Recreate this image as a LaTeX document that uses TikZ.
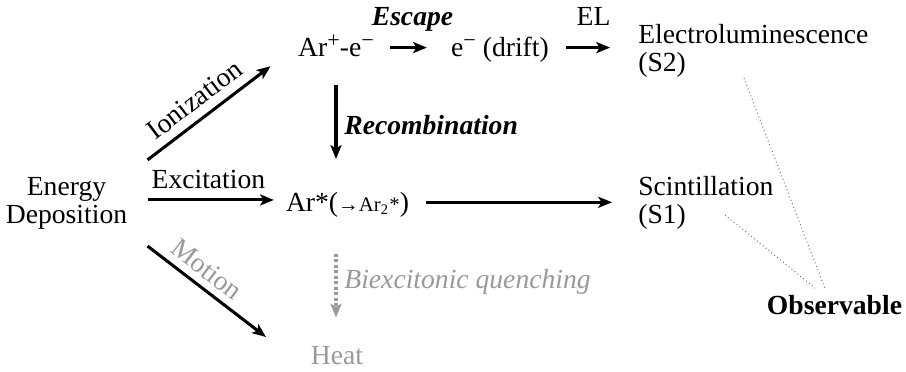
\documentclass[tikz,border=0pt]{standalone}
\usepackage{fontspec}
\setmainfont{Liberation Serif}
\usetikzlibrary{arrows.meta}

\definecolor{heatgray}{gray}{0.6}
\definecolor{linkgray}{gray}{0.45}

\newcommand{\charge}[1]{\raisebox{0.75ex}{\fontsize{8}{8}\selectfont #1}}

\begin{document}
\begin{tikzpicture}[x=0.362pt, y=-0.362pt,
        txt/.style={inner sep=1pt, text height=8.5pt, text depth=1.7pt},
        twoline/.style={inner sep=1pt, align=left, anchor=west,
                font=\fontsize{10}{10.2}\selectfont},
        lbl/.style={inner sep=0.5pt, text height=8.5pt, text depth=1.7pt},
        flow/.style={-{Stealth[length=5pt, width=4pt, inset=1.2pt]}, line width=1.1pt},
        quench/.style={-{Stealth[length=5pt, width=4pt, inset=1.2pt]}, line width=1.1pt,
                heatgray, dash pattern=on 1.1pt off 0.9pt},
        seen/.style={linkgray, line width=0.35pt, densely dotted}]

        \useasboundingbox (0,0) rectangle (906,372);

        %-- Start: energy deposit (left) --
        \node[align=center, minimum width=58.3pt, minimum height=30.8pt, inner sep=0pt,
            font=\fontsize{10}{10.2}\selectfont] (dep) at (66.5,203) {Energy\\Deposition};

        %-- Channels --
        \node[txt] (ion)   at (336,47.6)  {Ar\charge{+}-e\charge{−}};
        \node[txt] (drift) at (500,47.6)  {e\charge{−} (drift)};
        \node[txt] (exc)   at (347.5,202.3) {Ar*({\fontsize{7.5}{8}\selectfont →Ar\textsubscript{2}*})};
        \node[txt, text=heatgray] (heat) at (337,355.6) {Heat};

        %-- Signals --
        \node[twoline] (elec) at (635,51)    {Electroluminescence\\(S2)};
        \node[twoline] (scin) at (635,202.7) {Scintillation\\(S1)};
        \node[txt, font=\bfseries] (obs) at (834.5,305.6) {Observable};

        %-- Branches out of the deposit --
        \coordinate (excS) at ([yshift=1.1pt]dep.east);
        \coordinate (motiontip) at (266,337);
        \draw[flow, shorten >=11.1pt] (dep.north east) -- (ion.west)
            node[lbl, sloped, pos=0.4, above=1pt] {Ionization};
        \draw[flow, shorten >=3.2pt] (excS) -- (excS -| exc.west)
            node[lbl, pos=0.45, above=1.4pt] {Excitation};
        \draw[flow] (dep.south east) -- (motiontip)
            node[lbl, sloped, pos=0.41, above=0.4pt, text=heatgray] {Motion};

        %-- Electron path: escape, drift, EL --
        \draw[flow, shorten <=4.7pt, shorten >=7.6pt] (ion) -- (drift)
            node[lbl, midway, above=5.3pt, font=\bfseries\itshape] {Escape};
        \draw[flow, shorten <=5pt, shorten >=9pt] (drift) -- (drift -| elec.west)
            node[lbl, midway, above=5.3pt] {EL};

        %-- Recombination and quenching (vertical) --
        \draw[flow, shorten <=7.3pt, shorten >=9.4pt] (ion.south) -- (ion.south |- exc.north)
            node[lbl, midway, right=2pt, font=\bfseries\itshape] {Recombination};
        \draw[quench, shorten <=12.3pt, shorten >=7.5pt] (ion.south |- exc.south) -- (ion.south |- heat.north)
            node[lbl, midway, right=2pt, font=\itshape, text=heatgray] {Biexcitonic quenching};

        %-- Scintillation light --
        \draw[flow, shorten <=5pt, shorten >=8.3pt] (exc) -- (exc -| scin.west);

        %-- What is seen --
        \coordinate (s2foot) at (744,78);
        \coordinate (s1foot) at (725,215);
        \draw[seen] (s2foot) -- ([xshift=-3.5pt]obs.north);
        \draw[seen] (s1foot) -- ([xshift=-7pt]obs.north);

    \end{tikzpicture}
\end{document}
